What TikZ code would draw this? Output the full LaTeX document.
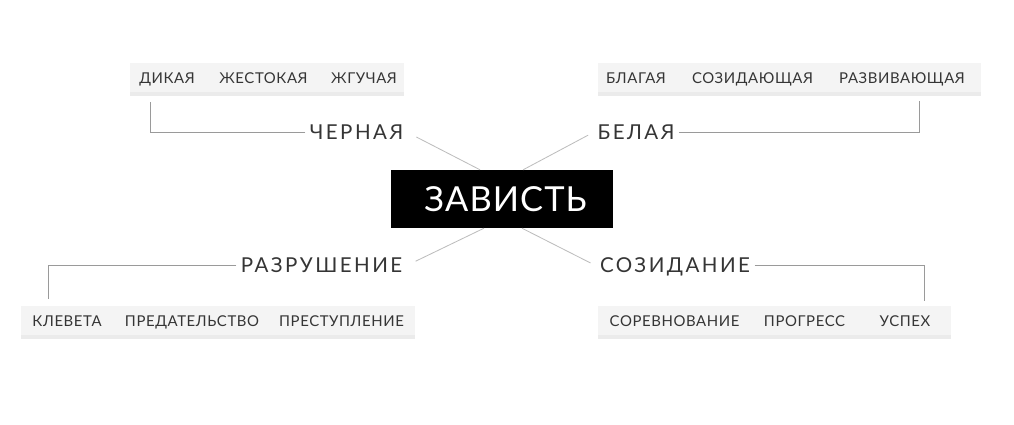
\documentclass[tikz,border=0pt]{standalone}
\usepackage{fontspec}
\setmainfont{Lato}
\newfontfamily\tagfont[LetterSpace=4]{Lato}
\newfontfamily\branchfont[LetterSpace=12]{Lato}
\newfontfamily\envyfont[LetterSpace=3]{Lato}
\usepackage{xcolor}
\usepackage{tikz}
\usetikzlibrary{shadows}
\usetikzlibrary{arrows.meta}

\definecolor{ink}{HTML}{353535}
\definecolor{tagfill}{HTML}{F4F4F4}
\definecolor{wire}{HTML}{9A9A9A}
\definecolor{cross}{HTML}{BDBDBD}

\begin{document}
\begin{tikzpicture}[x=0.025cm,y=-0.025cm]
\useasboundingbox (0,0) rectangle (1014,424);

% grey strips behind the words
\begin{scope}[every node/.style={rectangle,fill=tagfill,minimum height=29.5*0.709pt,inner sep=0pt,
              drop shadow={shadow xshift=0pt,shadow yshift=-2.5pt,opacity=0.16}}]
    \node[minimum width=274*0.709pt] (TLbox) at (267,77.5) {};
    \node[minimum width=385*0.709pt] (TRbox) at (789.5,77.5) {};
    \node[minimum width=396*0.709pt] (BLbox) at (218,320.5) {};
    \node[minimum width=355*0.709pt] (BRbox) at (774.5,320.5) {};
\end{scope}

% small words
\begin{scope}[every node/.style={text=ink,inner sep=0pt,text height=7.8pt,text depth=0pt,
              font=\tagfont\fontsize{10.6}{12}\selectfont}]
    \node (dik) at (167,78.5) {ДИКАЯ};
    \node (zhest) at (263.5,78.5) {ЖЕСТОКАЯ};
    \node (zhgu) at (364,78.5) {ЖГУЧАЯ};
    \node (blag) at (636,78.5) {БЛАГАЯ};
    \node (sozid) at (752.5,78.5) {СОЗИДАЮЩАЯ};
    \node (razv) at (902,78.5) {РАЗВИВАЮЩАЯ};
    \node (klev) at (67,321) {КЛЕВЕТА};
    \node (pred) at (192,321) {ПРЕДАТЕЛЬСТВО};
    \node (prest) at (341.5,321) {ПРЕСТУПЛЕНИЕ};
    \node (sorev) at (674.5,321) {СОРЕВНОВАНИЕ};
    \node (progr) at (804.5,321) {ПРОГРЕСС};
    \node (usp) at (905,321) {УСПЕХ};
\end{scope}

% branch labels
\begin{scope}[every node/.style={text=ink,inner sep=3pt,text height=10.6pt,text depth=0pt,
              font=\branchfont\fontsize{14.6}{16}\selectfont}]
    \node (black) at (356.5,132.5) {ЧЕРНАЯ};
    \node (white) at (636,132.5) {БЕЛАЯ};
    \node (ruin) at (321.5,265.5) {РАЗРУШЕНИЕ};
    \node (creat) at (675,265.5) {СОЗИДАНИЕ};
\end{scope}

\node[fill=black,text=white,minimum width=222*0.709pt,minimum height=58*0.709pt,
      font=\envyfont\fontsize{24.5}{28}\selectfont] (envy) at (502,199) {\kern5pt ЗАВИСТЬ};

\coordinate (TLend) at (150.5,102);
\coordinate (TRend) at (919,101);
\coordinate (BLend) at (48,299);
\coordinate (BRend) at (924,301);

\begin{scope}[every path/.style={draw=wire,line width=0.6pt}]
    \draw (black.west) -| (TLend);
    \draw (white.east) -| (TRend);
    \draw (ruin.west) -| (BLend);
    \draw (creat.east) -| (BRend);
\end{scope}

\begin{scope}[every path/.style={draw=cross,line width=0.6pt}]
    \draw[shorten <=7pt] (black.east) -- ([xshift=-15.6pt]envy.north);
    \draw[shorten <=4pt] (white.west) -- ([xshift=15pt]envy.north);
    \draw[shorten <=7pt] (ruin.east) -- ([xshift=-12.8pt]envy.south);
    \draw[shorten <=4pt] (creat.west) -- ([xshift=14.2pt]envy.south);
\end{scope}

\end{tikzpicture}
\end{document}
